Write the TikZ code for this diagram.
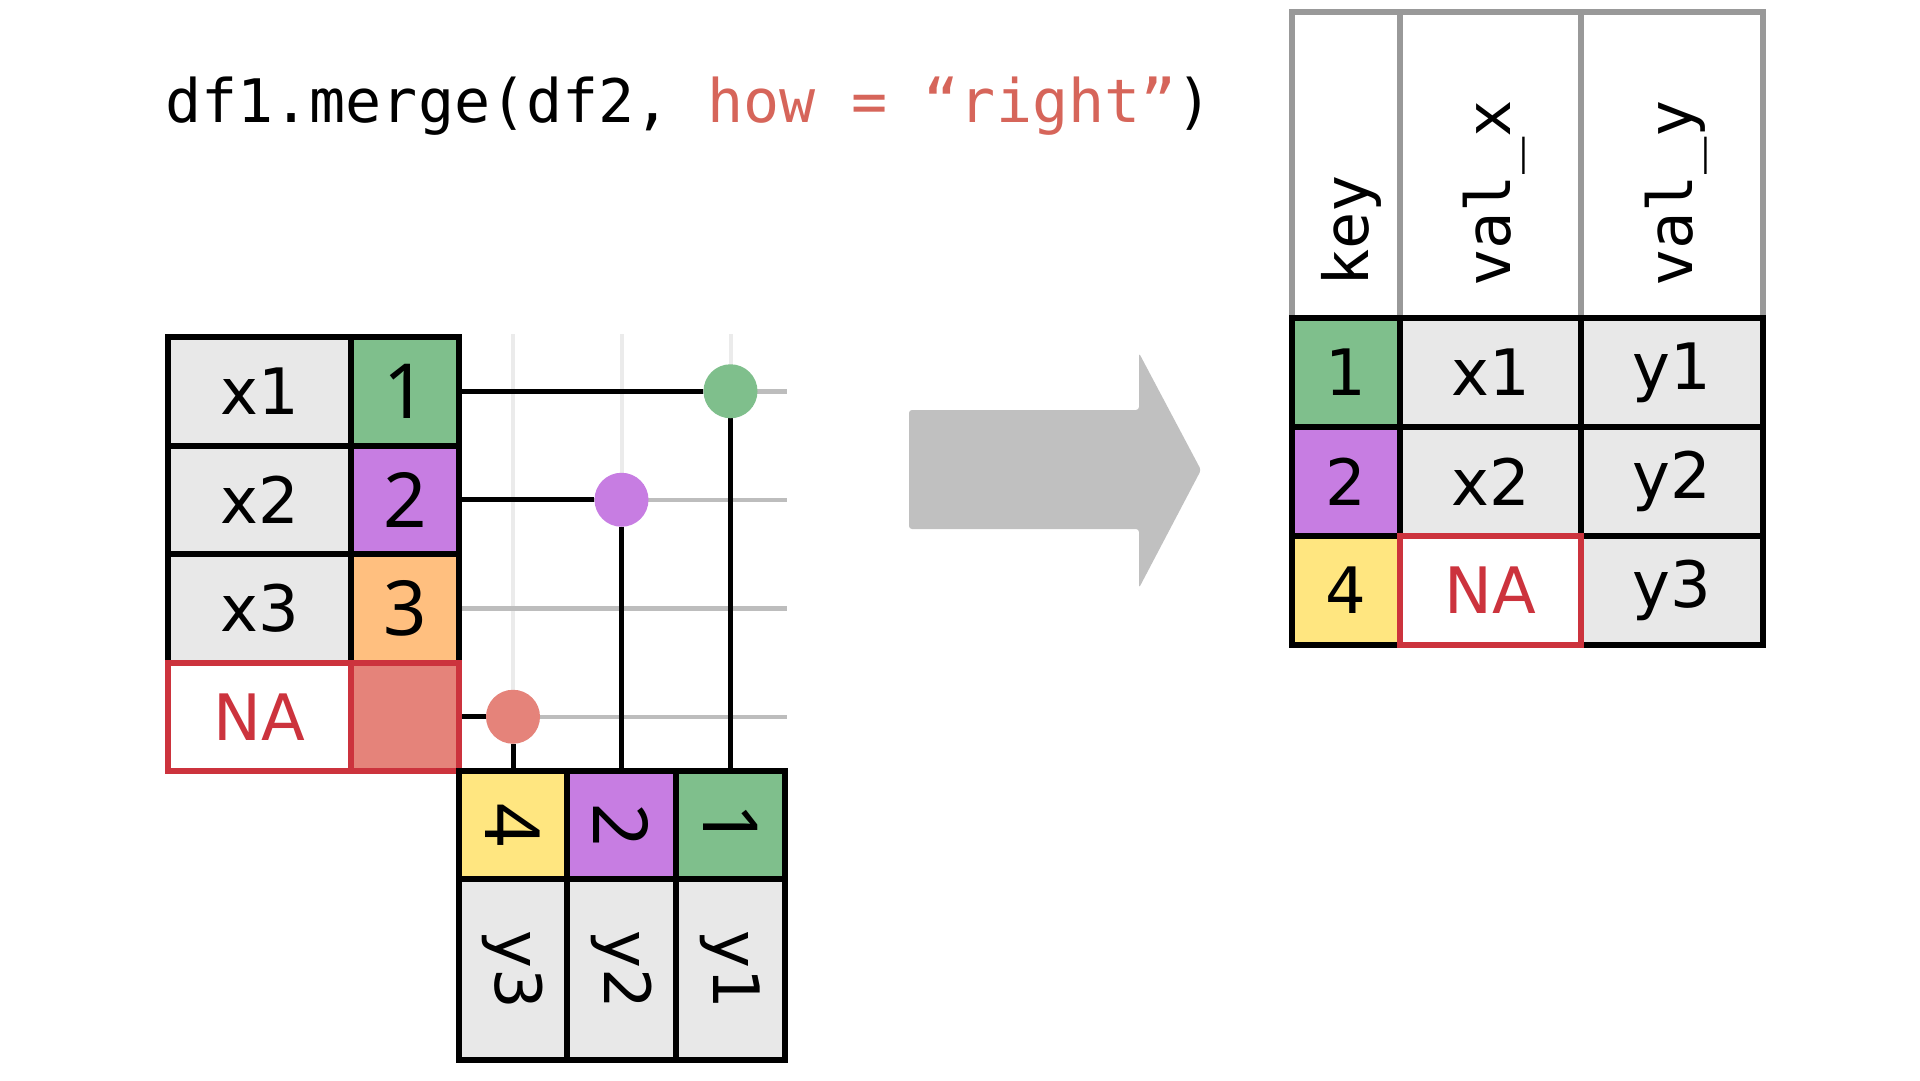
\documentclass[tikz,border=0pt]{standalone}
\usepackage{fontspec}
\setmainfont{DejaVu Sans}
\newfontfamily\monof{DejaVu Sans Mono}
\newfontfamily\digf{Noto Sans}
\definecolor{cellgray}{HTML}{E8E8E8}
\definecolor{kgreen}{HTML}{7FBF8C}
\definecolor{kpurple}{HTML}{C77DE2}
\definecolor{korange}{HTML}{FFBF7F}
\definecolor{kyellow}{HTML}{FFE680}
\definecolor{nafill}{HTML}{E5837A}
\definecolor{nared}{HTML}{CC333D}
\definecolor{titlered}{HTML}{D6655A}
\definecolor{arrowgray}{HTML}{C0C0C0}
\definecolor{hdrgray}{HTML}{999999}
\definecolor{guidegray}{HTML}{BDBDBD}
\definecolor{faintgray}{HTML}{EBEBEB}
\pgfdeclarelayer{bg}
\pgfsetlayers{bg,main}
\begin{document}
\begin{tikzpicture}[x=1pt,y=-1pt,
  cellbox/.style={draw=black, line width=6pt, inner sep=0pt},
  gcell/.style={cellbox, fill=cellgray},
  txt/.style={font=\fontsize{64}{64}\selectfont},
  dig/.style={font=\digf\fontsize{76}{76}\selectfont},
  hdrcell/.style={draw=hdrgray, line width=6pt, inner sep=0pt, fill=white},
  hdrtxt/.style={font=\monof\fontsize{62}{62}\selectfont, inner sep=0pt, rotate=90, anchor=west},
  nacell/.style={draw=nared, line width=6pt, inner sep=0pt},
  conn/.style={draw=black, line width=5pt},
  guide/.style={draw=guidegray, line width=4.5pt},
  faint/.style={draw=faintgray, line width=4pt},
  dot/.style={circle, minimum size=54pt, inner sep=0pt}]
\useasboundingbox (0,0) rectangle (1920,1080);

% title
\node[anchor=base west, inner sep=0pt, font=\monof\fontsize{60}{60}\selectfont] (title) at (165,122)
  {df1.merge(df2, \textcolor{titlered}{how = “right”})};

% left table
\node[gcell, minimum width=183pt, minimum height=108.5pt, txt] (lx1) at (259.5,391.25) {x1};
\node[gcell, minimum width=183pt, minimum height=108.5pt, txt] (lx2) at (259.5,499.75) {x2};
\node[gcell, minimum width=183pt, minimum height=108.5pt, txt] (lx3) at (259.5,608.25) {x3};
\node[cellbox, fill=kgreen, minimum width=108pt, minimum height=108.5pt, dig] (lk1) at (405,391.25) {1};
\node[cellbox, fill=kpurple, minimum width=108pt, minimum height=108.5pt, dig] (lk2) at (405,499.75) {2};
\node[cellbox, fill=korange, minimum width=108pt, minimum height=108.5pt, dig] (lk3) at (405,608.25) {3};
\node[nacell, fill=white, text=nared, minimum width=183pt, minimum height=108.5pt, txt] (lxna) at (259.5,716.75) {NA};
\node[nacell, fill=nafill, minimum width=108pt, minimum height=108.5pt] (lkna) at (405,716.75) {};

% bottom table
\node[cellbox, fill=kyellow, minimum width=108pt, minimum height=108pt, dig, rotate=-90] (bk4) at (513,825) {4};
\node[cellbox, fill=kpurple, minimum width=108pt, minimum height=109pt, dig, rotate=-90] (bk2) at (621.5,825) {2};
\node[cellbox, fill=kgreen, minimum width=108pt, minimum height=109pt, dig, rotate=-90] (bk1) at (730.5,825) {1};
\node[gcell, minimum width=181pt, minimum height=108pt, txt, rotate=-90] (by3) at (513,969.5) {y3};
\node[gcell, minimum width=181pt, minimum height=109pt, txt, rotate=-90] (by2) at (621.5,969.5) {y2};
\node[gcell, minimum width=181pt, minimum height=109pt, txt, rotate=-90] (by1) at (730.5,969.5) {y1};

% match dots
\node[dot, fill=kgreen] (c1) at (730.5,391.25) {};
\node[dot, fill=kpurple] (c2) at (621.5,499.75) {};
\node[dot, fill=nafill] (c4) at (513,716.75) {};

% guide coordinates
\coordinate (g1) at (787,391.25);
\coordinate (g2) at (787,499.75);
\coordinate (g3) at (787,608.25);
\coordinate (g4) at (787,716.75);
\coordinate (v4) at (513,334);
\coordinate (v2) at (621.5,334);
\coordinate (v1) at (730.5,334);

\begin{pgfonlayer}{bg}
  \draw[faint] (v4) -- (bk4.east);
  \draw[faint] (v2) -- (bk2.east);
  \draw[faint] (v1) -- (bk1.east);
  \draw[guide] (lk1.east) -- (g1);
  \draw[guide] (lk2.east) -- (g2);
  \draw[guide] (lk3.east) -- (g3);
  \draw[guide] (lkna.east) -- (g4);
  \draw[conn] (lk1.east) -- (c1.west);
  \draw[conn] (c1.south) -- (bk1.west);
  \draw[conn] (lk2.east) -- (c2.west);
  \draw[conn] (c2.south) -- (bk2.west);
  \draw[conn] (lkna.east) -- (c4.west);
  \draw[conn] (c4.south) -- (bk4.west);
\end{pgfonlayer}

% arrow
\fill[arrowgray, rounded corners=3pt] (909,410) -- (1139,410) -- (1139,353) -- (1201,470)
  -- (1139,588) -- (1139,529) -- (909,529) -- cycle;

% right table header
\node[hdrcell, minimum width=108pt, minimum height=306pt] (hk) at (1346,165) {};
\node[hdrcell, minimum width=181pt, minimum height=306pt] (hx) at (1490.5,165) {};
\node[hdrcell, minimum width=182pt, minimum height=306pt] (hy) at (1672,165) {};
\node[hdrtxt] (hkt) at (1351,287) {key};
\node[hdrtxt] (hxt) at (1494,287) {val\_x};
\node[hdrtxt] (hyt) at (1676,287) {val\_y};

% right table body
\node[cellbox, fill=kgreen, minimum width=108pt, minimum height=109pt, txt] (rk1) at (1346,372.5) {1};
\node[cellbox, fill=kpurple, minimum width=108pt, minimum height=109pt, txt] (rk2) at (1346,481.5) {2};
\node[cellbox, fill=kyellow, minimum width=108pt, minimum height=109pt, txt] (rk4) at (1346,590.5) {4};
\node[gcell, minimum width=181pt, minimum height=109pt, txt] (rx1) at (1490.5,372.5) {x1};
\node[gcell, minimum width=181pt, minimum height=109pt, txt] (rx2) at (1490.5,481.5) {x2};
\node[gcell, minimum width=182pt, minimum height=109pt, txt] (ry1) at (1672,372.5) {y1};
\node[gcell, minimum width=182pt, minimum height=109pt, txt] (ry2) at (1672,481.5) {y2};
\node[gcell, minimum width=182pt, minimum height=109pt, txt] (ry3) at (1672,590.5) {y3};
\node[nacell, fill=white, text=nared, minimum width=181pt, minimum height=109pt, txt] (rxna) at (1490.5,590.5) {NA};
\end{tikzpicture}
\end{document}
